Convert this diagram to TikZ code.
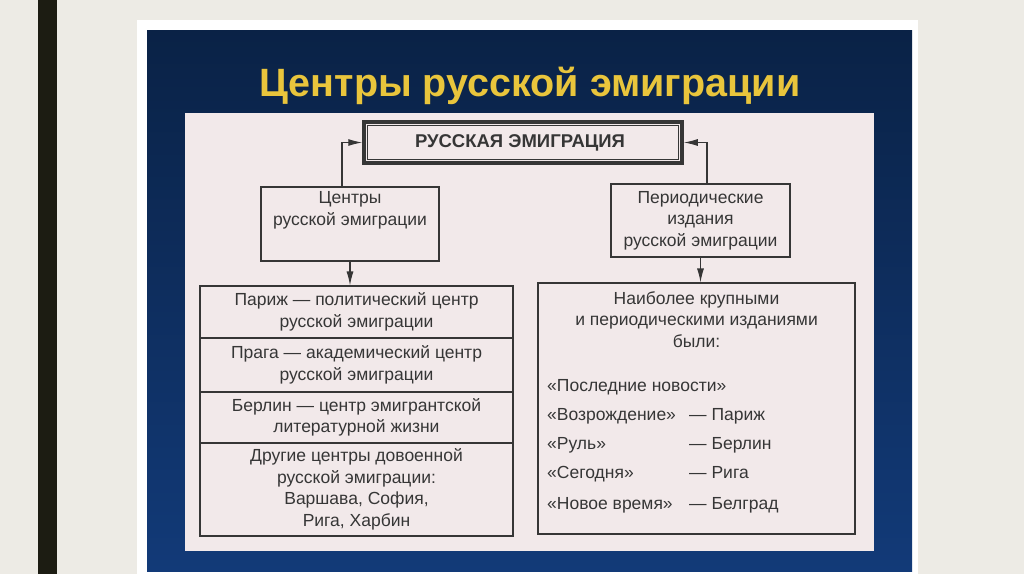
\documentclass[tikz,border=0pt]{standalone}
\usepackage{fontspec}
\setmainfont{Liberation Sans}
\usetikzlibrary{arrows.meta}
\definecolor{bgc}{HTML}{EDEBE5}
\definecolor{barc}{HTML}{1C1C12}
\definecolor{navy}{HTML}{123A78}
\definecolor{navytop}{HTML}{0A2246}
\definecolor{panelc}{HTML}{F2E9EA}
\definecolor{ink}{HTML}{363636}
\definecolor{titlec}{HTML}{E9C53C}
\tikzset{
  box/.style={draw=ink, line width=1.1pt, inner sep=0pt, font=\fontsize{17.5}{21.5}\selectfont, text=ink, align=center},
  txt/.style={inner sep=0pt, font=\fontsize{17.5}{21.5}\selectfont, text=ink, align=center},
  ltxt/.style={inner sep=0pt, font=\fontsize{17.5}{21.5}\selectfont, text=ink, anchor=base west},
  arr/.style={draw=ink, line width=1.1pt, -{Latex[length=14pt,width=7pt]}}
}
\begin{document}
\begin{tikzpicture}[x=1pt,y=-1pt]
\useasboundingbox (0,0) rectangle (1024,574);
\fill[bgc] (0,0) rectangle (1024,574);
\fill[barc] (38,0) rectangle (57,574);
\fill[white] (137,20) rectangle (918,574);
\shade[top color=navytop, bottom color=navy] (147,30) rectangle (912,571);
\node[inner sep=0pt, text=titlec, font=\fontsize{39.5}{44}\selectfont\bfseries] (title) at (530,86) {Центры русской эмиграции};
\fill[panelc] (185,113) rectangle (874,551);

% top box
\node[draw=ink, line width=3.5pt, minimum width=318pt, minimum height=41pt, inner sep=0pt] (top) at (523,142.5) {};
\draw[ink, line width=0.9pt] ([shift={(5.5,5.5)}]top.north west) rectangle ([shift={(-5.5,-5.5)}]top.south east);
\node[inner sep=0pt, text=ink, font=\fontsize{18.5}{22}\selectfont\bfseries] (toptxt) at (520,142.5) {РУССКАЯ ЭМИГРАЦИЯ};

% second level
\node[box, minimum width=178pt, minimum height=74pt] (cent) at (350,224) {};
\node[txt] (centtxt) at (350,210.5) {Центры\\русской эмиграции};
\node[box, minimum width=179pt, minimum height=73pt] (per) at (700.5,220.5) {Периодические\\издания\\русской эмиграции};

\coordinate (lup) at (342,0);
\coordinate (rup) at (707,0);
\draw[arr] (cent.north -| lup) |- (top.west);
\draw[arr] (per.north -| rup) |- (top.east);

% left stack
\node[box, minimum width=313pt, minimum height=52pt] (r1) at (356.5,312) {Париж — политический центр\\русской эмиграции};
\node[box, minimum width=313pt, minimum height=54pt] (r2) at (356.5,365) {Прага — академический центр\\русской эмиграции};
\node[box, minimum width=313pt, minimum height=51pt] (r3) at (356.5,417.5) {Берлин — центр эмигрантской\\литературной жизни};
\node[box, minimum width=313pt, minimum height=93pt] (r4) at (356.5,489.5) {Другие центры довоенной\\русской эмиграции:\\Варшава, София,\\Рига, Харбин};
\draw[arr] (cent.south) -- (r1.north -| cent.south);

% right box
\node[box, minimum width=317pt, minimum height=251pt] (rb) at (696.5,408.5) {};
\draw[arr] (per.south) -- (rb.north -| per.south);
\node[txt] (head) at (696.5,319.5) {Наиболее крупными\\и периодическими изданиями\\были:};
\node[ltxt] (p1) at (547,391) {«Последние новости»};
\node[ltxt] (p2) at (547,420) {«Возрождение»};
\node[ltxt] (p3) at (547,449) {«Руль»};
\node[ltxt] (p4) at (547,478.5) {«Сегодня»};
\node[ltxt] (p5) at (547,509.5) {«Новое время»};
\node[ltxt] (c2) at (689,420) {— Париж};
\node[ltxt] (c3) at (689,449) {— Берлин};
\node[ltxt] (c4) at (689,478.5) {— Рига};
\node[ltxt] (c5) at (689,509.5) {— Белград};
\end{tikzpicture}
\end{document}
